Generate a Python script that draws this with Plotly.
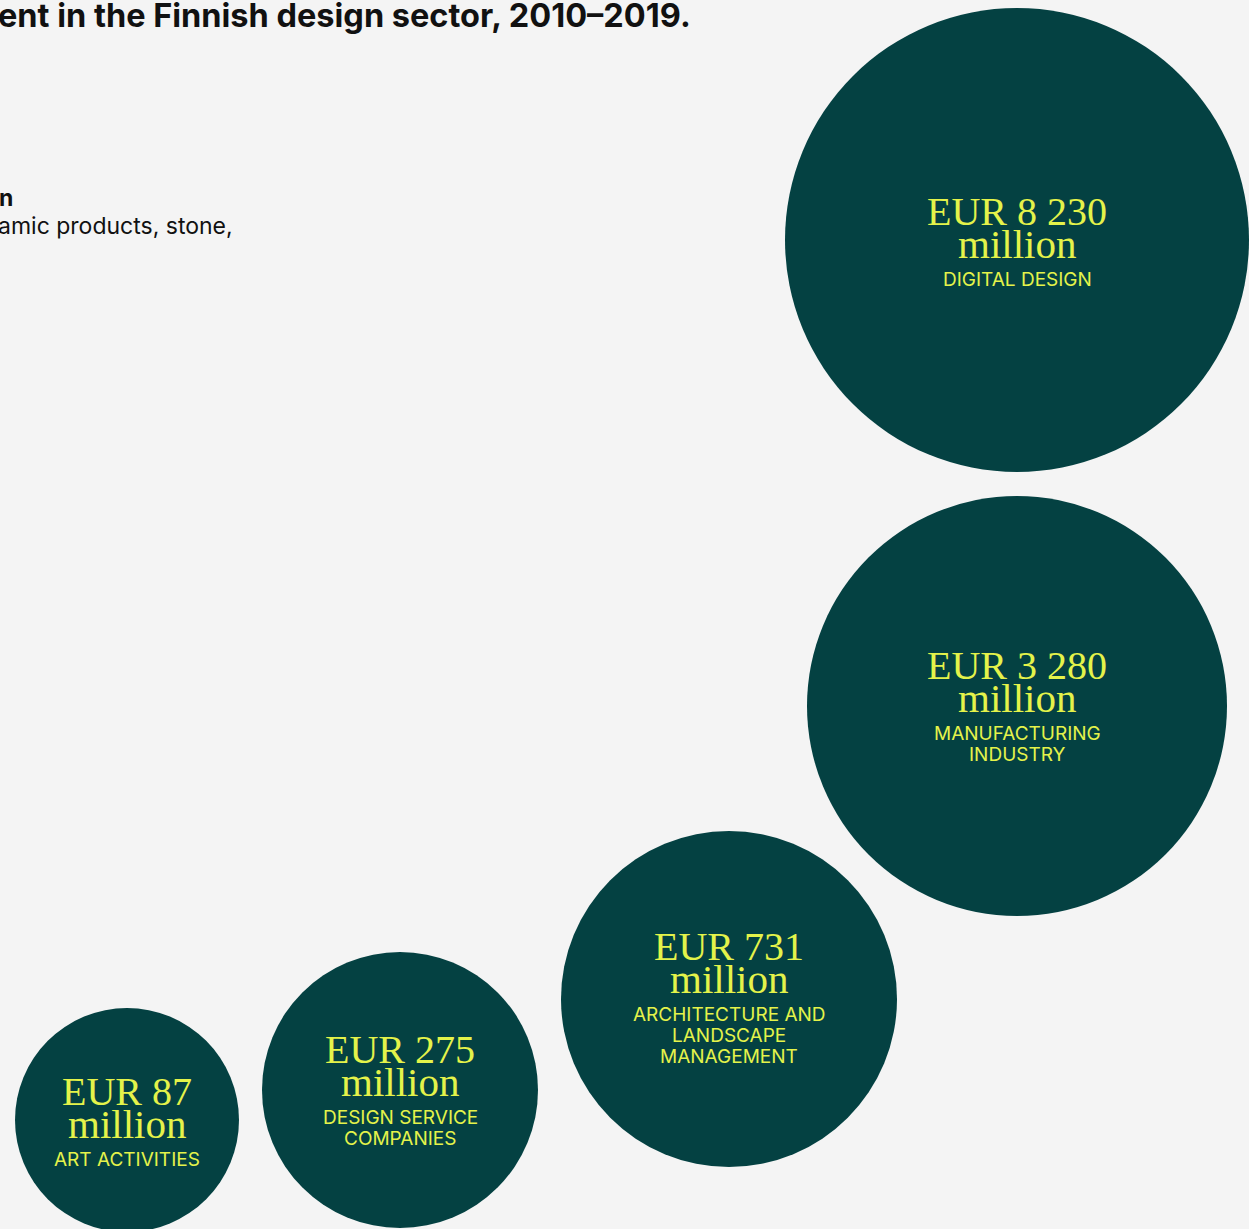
import plotly.graph_objects as go

# ---- data ----
values = ["EUR 8 230", "EUR 3 280", "EUR 731", "EUR 275", "EUR 87"]
units = ["million", "million", "million", "million", "million"]
sectors = [
    ["DIGITAL DESIGN"],
    ["MANUFACTURING", "INDUSTRY"],
    ["ARCHITECTURE AND", "LANDSCAPE", "MANAGEMENT"],
    ["DESIGN SERVICE", "COMPANIES"],
    ["ART ACTIVITIES"],
]
title_text = "ent in the Finnish design sector, 2010\u20132019."
note_bold = "n"
note_text = "amic products, stone,"

# ---- layout (pixel positions of bubbles) ----
centers_x = [1017, 1017, 729, 400, 127]
centers_y = [240, 706, 999, 1090, 1120]
radii = [232, 210, 168, 138, 112]

W, H = 1249, 1229
BG = "#f4f4f4"
CIRCLE = "#044142"
TEXT = "#e4f34a"

fig = go.Figure()
fig.add_trace(go.Scatter(x=[0, W], y=[0, H], mode="markers", marker=dict(opacity=0), hoverinfo="skip", showlegend=False))

shapes = []
annotations = []
for val, unit, sec, cx, cy, r in zip(values, units, sectors, centers_x, centers_y, radii):
    shapes.append(dict(type="circle", xref="x", yref="y", x0=cx - r, x1=cx + r, y0=cy - r, y1=cy + r,
                       fillcolor=CIRCLE, line=dict(width=0), layer="below"))
    n = len(sec)
    y0 = cy - (29 + 12 * (n - 1))
    annotations.append(dict(x=cx, y=y0, xref="x", yref="y", text=val, showarrow=False,
                            xanchor="center", yanchor="middle",
                            font=dict(family="Liberation Serif", size=40, color=TEXT)))
    annotations.append(dict(x=cx, y=y0 + 33, xref="x", yref="y", text=unit, showarrow=False,
                            xanchor="center", yanchor="middle",
                            font=dict(family="Liberation Serif", size=41, color=TEXT)))
    for k, line in enumerate(sec):
        annotations.append(dict(x=cx, y=y0 + 68 + 21 * k, xref="x", yref="y", text=line, showarrow=False,
                                xanchor="center", yanchor="middle",
                                font=dict(family="Inter", size=19, color=TEXT)))

annotations.append(dict(x=693, y=15, xref="x", yref="y", text="<b>" + title_text + "</b>", showarrow=False,
                        xanchor="right", yanchor="middle",
                        font=dict(family="Inter", size=32.5, color="#111111")))
annotations.append(dict(x=15, y=198, xref="x", yref="y", text="<b>" + note_bold + "</b>", showarrow=False,
                        xanchor="right", yanchor="middle",
                        font=dict(family="Inter", size=23, color="#111111")))
annotations.append(dict(x=235, y=226, xref="x", yref="y", text=note_text, showarrow=False,
                        xanchor="right", yanchor="middle",
                        font=dict(family="Inter", size=23, color="#111111")))

fig.update_layout(
    width=W, height=H,
    margin=dict(l=0, r=0, t=0, b=0),
    paper_bgcolor=BG, plot_bgcolor=BG,
    xaxis=dict(range=[0, W], visible=False, fixedrange=True),
    yaxis=dict(range=[H, 0], visible=False, fixedrange=True),
    shapes=shapes, annotations=annotations,
    showlegend=False,
)
fig.write_html("out.html", config={"displayModeBar": False},
               post_script="document.body.style.margin='0';document.body.style.overflow='hidden';")
